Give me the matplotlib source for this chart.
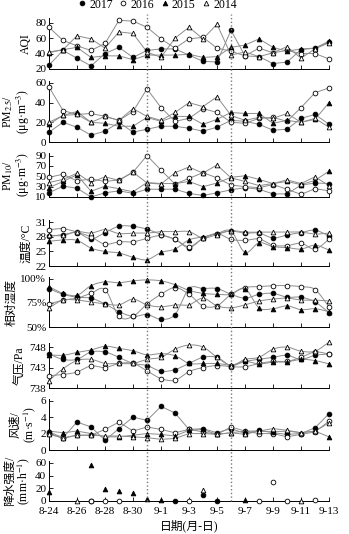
import numpy as np
import matplotlib
matplotlib.use("Agg")
from matplotlib import pyplot as plt
from matplotlib import transforms
from matplotlib.lines import Line2D

plt.rcParams['font.family'] = ['Liberation Serif', 'Noto Sans CJK SC']
plt.rcParams['mathtext.fontset'] = 'stix'
plt.rcParams['axes.unicode_minus'] = False

# 8-24 ... 9-13, one point per day
days = ['8-24', '8-25', '8-26', '8-27', '8-28', '8-29', '8-30', '8-31', '9-1', '9-2',
        '9-3', '9-4', '9-5', '9-6', '9-7', '9-8', '9-9', '9-10', '9-11', '9-12', '9-13']
day_ticks = ['8-24', '8-26', '8-28', '8-30', '9-1', '9-3', '9-5', '9-7', '9-9', '9-11', '9-13']
mark_days = ['8-31', '9-6']
years = ['2017', '2016', '2015', '2014']

aqi_2017 = [25, 44, 34, 24, 40, 48, 35, 44, 46, 46, 38, 30, 29, 70, 37, 36, 27, 29, 45, 47, 55]
aqi_2016 = [74, 57, 50, 44, 53, 83, 82, 74, 59, 47, 59, 61, 47, 43, 37, 47, 41, 44, 40, 40, 33]
aqi_2015 = [41, 45, 48, 35, 37, 37, 32, 38, 38, 38, 39, 35, 36, 48, 51, 59, 48, 43, 46, 47, 56]
aqi_2014 = [42, 45, 63, 59, 47, 68, 66, 42, 35, 60, 74, 59, 78, 38, 42, 36, 41, 49, 34, 46, 54]

pm25_2017 = [10, 20, 15, 7, 11, 20, 10, 13, 16, 16, 14, 11, 15, 22, 21, 18, 12, 13, 24, 28, 18]
pm25_2016 = [56, 32, 28, 29, 26, 22, 31, 54, 35, 21, 24, 34, 30, 20, 19, 24, 25, 21, 35, 50, 55]
pm25_2015 = [18, 27, 31, 20, 19, 16, 16, 25, 21, 26, 26, 18, 23, 30, 29, 29, 19, 22, 20, 23, 40]
pm25_2014 = [20, 27, 28, 20, 26, 22, 34, 26, 22, 30, 40, 36, 46, 27, 22, 25, 24, 29, 20, 24, 15]

pm10_2017 = [18, 31, 27, 10, 18, 22, 17, 25, 25, 25, 17, 13, 18, 24, 28, 25, 16, 16, 33, 37, 36]
pm10_2016 = [48, 54, 41, 45, 40, 43, 58, 90, 62, 35, 46, 57, 47, 33, 30, 28, 34, 25, 15, 26, 22]
pm10_2015 = [28, 40, 53, 21, 31, 26, 20, 38, 36, 36, 40, 30, 37, 48, 51, 44, 36, 40, 34, 42, 60]
pm10_2014 = [38, 44, 56, 38, 49, 42, 58, 37, 35, 57, 68, 56, 72, 47, 40, 32, 36, 43, 36, 49, 32]

temp_2017 = [28.1, 28.5, 28.9, 27.6, 28.9, 30.2, 30.2, 29.6, 28.5, 27.5, 25.8, 27.7, 28.7, 29.2,
             28.8, 28.8, 27.8, 28.4, 28.9, 29.4, 28.2]
temp_2016 = [29.5, 29.7, 29.0, 28.0, 26.5, 27.0, 27.0, 27.7, 28.3, 27.5, 26.0, 27.7, 28.7, 27.5,
             27.3, 27.6, 26.3, 26.2, 26.7, 25.5, 27.5]
temp_2015 = [27.1, 27.4, 27.3, 25.7, 25.0, 24.7, 23.8, 23.3, 24.8, 25.5, 27.4, 28.0, 28.7, 29.2,
             24.8, 26.8, 26.0, 25.8, 25.5, 26.3, 25.3]
temp_2014 = [28.3, 28.3, 29.1, 28.8, 29.5, 28.7, 28.8, 28.8, 29.1, 29.1, 29.1, 27.8, 28.5, 29.3,
             29.0, 29.0, 29.0, 29.0, 29.0, 28.6, 28.8]

rh_2017 = [90, 84, 81, 80, 74, 66, 61, 63, 58, 63, 90, 90, 90, 84, 80, 84, 85, 81, 81, 76, 65]
rh_2016 = [74, 78, 80, 85, 89, 61, 61, 74, 84, 91, 84, 72, 72, 84, 91, 92, 93, 93, 92, 89, 71]
rh_2015 = [92, 85, 83, 93, 97, 96, 98, 99, 98, 94, 88, 85, 84, 84, 90, 70, 69, 72, 68, 69, 66]
rh_2014 = [70, 78, 78, 76, 74, 73, 79, 73, 71, 73, 73, 80, 72, 70, 73, 77, 79, 80, 78, 78, 77]

pres_2017 = [746.3, 745.0, 745.0, 746.8, 746.8, 745.5, 744.0, 743.5, 742.1, 742.5, 744.0, 745.5,
             745.5, 743.5, 744.5, 745.0, 745.5, 746.0, 745.0, 746.0, 746.3]
pres_2016 = [741.0, 741.3, 741.9, 743.4, 743.0, 744.0, 744.0, 742.2, 740.3, 739.9, 742.0, 743.0,
             743.5, 743.2, 743.2, 744.0, 744.5, 744.5, 745.5, 746.8, 746.3]
pres_2015 = [746.1, 746.0, 746.7, 747.3, 748.2, 747.7, 747.1, 746.1, 746.4, 745.9, 744.0, 744.0,
             744.0, 743.6, 744.5, 743.9, 744.3, 744.4, 745.0, 744.7, 743.9]
pres_2014 = [739.8, 742.7, 744.7, 745.0, 744.0, 744.0, 744.0, 745.0, 745.5, 747.5, 748.5, 748.0,
             745.5, 743.5, 745.0, 745.5, 747.5, 748.0, 747.0, 747.0, 749.2]

wind_2017 = [2.2, 1.5, 3.4, 2.8, 1.2, 2.6, 4.0, 3.6, 5.3, 4.5, 2.5, 2.6, 2.1, 2.6, 2.0, 2.4, 2.1,
             1.9, 2.0, 2.7, 4.4]
wind_2016 = [2.0, 1.4, 1.8, 1.8, 2.5, 3.4, 2.3, 2.8, 2.5, 2.1, 2.5, 2.2, 1.9, 2.8, 2.3, 2.0, 2.0,
             1.6, 1.9, 2.2, 3.5]
wind_2015 = [2.3, 2.1, 2.3, 2.0, 1.6, 1.6, 1.8, 2.0, 1.9, 1.7, 2.4, 2.5, 1.9, 2.1, 2.3, 2.3, 2.2,
             2.3, 2.1, 2.3, 1.6]
wind_2014 = [1.9, 1.5, 1.8, 1.8, 1.7, 1.7, 1.6, 1.5, 1.3, 1.4, 2.0, 2.0, 1.9, 2.1, 1.9, 2.3, 2.6,
             2.4, 2.1, 2.3, 3.3]

nan = np.nan
rain_2017 = [nan, nan, nan, 0.5, nan, nan, nan, nan, nan, 0, nan, 9, 0.5, nan, nan, nan, nan,
             nan, nan, nan, nan]
rain_2016 = [nan, nan, nan, 0.5, 0, 0, nan, nan, nan, nan, 0, nan, nan, nan, nan, 0, 30, 0,
             nan, 1, nan]
rain_2015 = [14, nan, nan, 56, 19, 16, 13, 3, 1, nan, nan, nan, nan, nan, 1, nan, nan, nan,
             nan, nan, nan]
rain_2014 = [nan, nan, 0, nan, nan, nan, nan, nan, nan, nan, nan, 18, nan, nan, nan, nan, nan,
             nan, 0.5, nan, nan]

styles = {
    '2017': dict(marker='o', mfc='black'),
    '2016': dict(marker='o', mfc='white'),
    '2015': dict(marker='^', mfc='black'),
    '2014': dict(marker='^', mfc='white'),
}


def smooth(x, y, n=10):
    # cubic hermite curve through the points, just for drawing the line
    x = np.asarray(x, float)
    y = np.asarray(y, float)
    m = np.gradient(y, x)
    xs, ys = [], []
    t = np.linspace(0, 1, n, endpoint=False)
    for i in range(len(x) - 1):
        h = x[i + 1] - x[i]
        h00 = 2 * t**3 - 3 * t**2 + 1
        h10 = t**3 - 2 * t**2 + t
        h01 = -2 * t**3 + 3 * t**2
        h11 = t**3 - t**2
        xs.append(x[i] + t * h)
        ys.append(h00 * y[i] + h10 * h * m[i] + h01 * y[i + 1] + h11 * h * m[i + 1])
    xs.append([x[-1]])
    ys.append([y[-1]])
    return np.concatenate(xs), np.concatenate(ys)


W, H = 349, 534
fig = plt.figure(figsize=(W / 100, H / 100), dpi=100)

# (top px, bottom px, ylim, yticks, ylabel, series, curved)
panels = [
    (18, 69, (20, 86), [20, 40, 60, 80], 'AQI',
     [aqi_2017, aqi_2016, aqi_2015, aqi_2014], False),
    (81, 142, (0, 62), [0, 20, 40, 60], 'PM$_{2.5}$/\n(μg·m$^{-3}$)',
     [pm25_2017, pm25_2016, pm25_2015, pm25_2014], False),
    (153, 197, (10, 95), [10, 30, 50, 70, 90], 'PM$_{10}$/\n(μg·m$^{-3}$)',
     [pm10_2017, pm10_2016, pm10_2015, pm10_2014], False),
    (220, 266, (22, 31.5), [22, 25, 28, 31], '温度/°C',
     [temp_2017, temp_2016, temp_2015, temp_2014], True),
    (277, 327, (50, 102), [50, 75, 100], '相对湿度',
     [rh_2017, rh_2016, rh_2015, rh_2014], True),
    (343, 388, (738, 749), [738, 743, 748], '气压/Pa',
     [pres_2017, pres_2016, pres_2015, pres_2014], True),
    (399, 450, (0, 6.2), [0, 2, 4, 6], '风速/\n(m·s$^{-1}$)',
     [wind_2017, wind_2016, wind_2015, wind_2014], False),
    (461, 501, (0, 63), [0, 20, 40, 60], '降水强度/\n(mm·h$^{-1}$)',
     [rain_2017, rain_2016, rain_2015, rain_2014], None),
]

x = np.arange(len(days))
left, right = 49, 329
axes = []
for k, (top, bot, ylim, yt, lab, series, curved) in enumerate(panels):
    ax = fig.add_axes([left / W, 1 - bot / H, (right - left) / W, (bot - top) / H])
    ax.set_facecolor('none')
    for yr, vals in zip(years, series):
        st = styles[yr]
        if curved is not None:
            if curved:
                sx, sy = smooth(x, vals)
            else:
                sx, sy = x, vals
            ax.plot(sx, sy, color='#8c8c8c', lw=0.7, zorder=2, clip_on=False)
        ax.plot(x, vals, ls='none', marker=st['marker'], mfc=st['mfc'], mec='black',
                ms=3.4, mew=0.6, zorder=3, clip_on=False)
    ax.set_xlim(0, len(days) - 1)
    ax.set_ylim(*ylim)
    ax.set_yticks(yt)
    if k == 4:
        ax.set_yticklabels(['%d%%' % v for v in yt])
    ax.set_xticks([days.index(d) for d in day_ticks])
    if k == len(panels) - 1:
        ax.set_xticklabels(day_ticks)
        ax.set_xlabel('日期(月-日)', fontsize=8.5, labelpad=3)
    else:
        ax.set_xticklabels([])
    ax.spines['top'].set_visible(False)
    ax.spines['right'].set_visible(False)
    ax.spines['left'].set_linewidth(0.7)
    ax.spines['bottom'].set_linewidth(0.7)
    ax.tick_params(direction='in', length=3, width=0.6, labelsize=8, pad=2)
    ax.tick_params(axis='x', pad=4)
    ax.set_ylabel(lab, fontsize=8.5, labelpad=2, linespacing=1.0)
    axes.append(ax)

# dotted markers through all panels
trans = transforms.blended_transform_factory(axes[-1].transData, fig.transFigure)
for d in mark_days:
    fig.add_artist(Line2D([days.index(d)] * 2, [1 - 501 / H, 1 - 14 / H], transform=trans,
                          color='#777777', lw=1.0, ls=':'))

handles = [Line2D([], [], ls='none', marker=styles[y]['marker'], mfc=styles[y]['mfc'],
                  mec='black', ms=3.4, mew=0.6) for y in years]
fig.legend(handles, years, loc='upper center', bbox_to_anchor=(0.45, 1.005), ncol=4,
           frameon=False, fontsize=8.5, handletextpad=0.2, columnspacing=0.5,
           handlelength=0.8, borderaxespad=0, borderpad=0.1)

fig.savefig('out.png', dpi=100)
